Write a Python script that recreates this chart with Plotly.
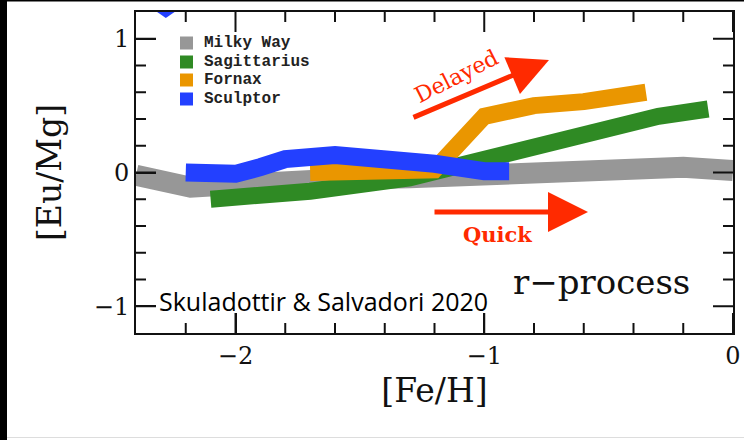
import plotly.graph_objects as go

# ---------------- data ----------------
mw_x = [-2.4, -2.18, -2.0, -1.8, -1.6, -1.3, -1.0, -0.8, -0.45, -0.2, 0.0]
mw_y = [-0.02, -0.11, -0.09, -0.06, -0.05, -0.04, -0.02, -0.005, 0.05, 0.04, 0.015]

sgr_x = [-2.1, -1.7, -1.3, -1.0, -0.6, -0.3, -0.1]
sgr_y = [-0.2, -0.14, -0.04, 0.1, 0.28, 0.42, 0.475]

fnx_x = [-1.7, -1.4, -1.2, -1.0, -0.8, -0.6, -0.35]
fnx_y = [0.0, 0.0, 0.02, 0.42, 0.5, 0.53, 0.6]

scl_x = [-2.2, -2.0, -1.9, -1.8, -1.6, -1.4, -1.3, -1.2, -1.0, -0.9]
scl_y = [0.0, -0.01, 0.04, 0.1, 0.13, 0.1, 0.1, 0.065, 0.01, 0.01]

# small clipped piece of the Sculptor band at the top edge
scl_top_x = [-2.315, -2.245, -2.28, -2.315]
scl_top_y = [1.2, 1.2, 1.155, 1.2]

names = ["Milky Way", "Sagittarius", "Fornax", "Sculptor"]
colors = ["#979797", "#2f8a24", "#ea9600", "#2340ff"]
widths = [21, 17, 17, 18]

x_range = [-2.4, 0.0]
y_range = [-1.2, 1.2]
x_major = [-2, -1, 0]
y_major = [-1, 0, 1]
x_minor = [-2.2, -1.8, -1.6, -1.4, -1.2, -0.8, -0.6, -0.4, -0.2]
y_minor = [-0.8, -0.6, -0.4, -0.2, 0.2, 0.4, 0.6, 0.8]

RED = "#ff2a00"
INK = "#111111"

# plot area geometry (pixels)
L, R, T, B = 136, 733, 12, 333
W, H = 744, 440
PW, PH = R - L, B - T
XU = (x_range[1] - x_range[0]) / PW   # data units per pixel
YU = (y_range[1] - y_range[0]) / PH


def X(px):
    return x_range[0] + (px - L) * XU


def Y(py):
    return y_range[1] - (py - T) * YU


def PX(px):
    return (px - L) / PW


def PY(py):
    return (B - py) / PH


# ---------------- figure ----------------
fig = go.Figure()
series = [(mw_x, mw_y), (sgr_x, sgr_y), (fnx_x, fnx_y), (scl_x, scl_y)]
for (xs, ys), n, c, w in zip(series, names, colors, widths):
    fig.add_trace(go.Scatter(x=xs, y=ys, mode="lines", name=n,
                             line=dict(color=c, width=w), showlegend=False,
                             hoverinfo="skip"))

fig.add_trace(go.Scatter(x=scl_top_x, y=scl_top_y, mode="lines", fill="toself",
                         fillcolor=colors[3], line=dict(width=0, color=colors[3]),
                         showlegend=False, hoverinfo="skip"))

# inward tick marks on all four sides, as line segments on the axes' scales
tx, ty = [], []
for vals, ln in ((x_major, 20), (x_minor, 10)):
    for v in vals:
        tx += [v, v, None, v, v, None]
        ty += [y_range[0], y_range[0] + ln * YU, None,
               y_range[1], y_range[1] - ln * YU, None]
for vals, ln in ((y_major, 20), (y_minor, 10)):
    for v in vals:
        tx += [x_range[0], x_range[0] + ln * XU, None,
               x_range[1], x_range[1] - ln * XU, None]
        ty += [v, v, None, v, v, None]
fig.add_trace(go.Scatter(x=tx, y=ty, mode="lines", line=dict(color=INK, width=2),
                         showlegend=False, hoverinfo="skip", cliponaxis=False))

shapes = []
annotations = []

# legend (manual, squares + labels)
legend_rows = [43, 62, 80, 99]
for n, c, ry in zip(names, colors, legend_rows):
    shapes.append(dict(type="rect", xref="x", yref="y",
                       x0=X(180), x1=X(193), y0=Y(ry - 6.5), y1=Y(ry + 6.5),
                       fillcolor=c, line=dict(width=0)))
    annotations.append(dict(x=X(202), y=Y(ry), xref="x", yref="y", text=n,
                            showarrow=False, xanchor="left", yanchor="middle",
                            font=dict(family="Liberation Mono", size=16,
                                      color="#222222", weight="bold")))

# arrows
annotations.append(dict(x=X(549), y=Y(60), ax=X(412), ay=Y(118),
                        xref="x", yref="y", axref="x", ayref="y", text="",
                        showarrow=True, arrowhead=2, arrowsize=1.6,
                        arrowwidth=5, arrowcolor=RED))
annotations.append(dict(x=X(588), y=Y(212), ax=X(433), ay=Y(212),
                        xref="x", yref="y", axref="x", ayref="y", text="",
                        showarrow=True, arrowhead=2, arrowsize=1.6,
                        arrowwidth=5, arrowcolor=RED))
annotations.append(dict(x=X(456), y=Y(76), xref="x", yref="y", text="Delayed",
                        showarrow=False, textangle=-27,
                        font=dict(family="DejaVu Serif", size=22, color=RED)))
annotations.append(dict(x=X(497), y=Y(234), xref="x", yref="y", text="Quick",
                        showarrow=False,
                        font=dict(family="DejaVu Serif", size=21, color=RED,
                                  weight="bold")))
annotations.append(dict(x=X(601), y=Y(282), xref="x", yref="y", text="r−process",
                        showarrow=False,
                        font=dict(family="DejaVu Serif", size=34, color=INK)))
annotations.append(dict(x=X(157), y=Y(301), xref="x", yref="y",
                        text="Skuladottir &amp; Salvadori 2020",
                        showarrow=False, xanchor="left", yanchor="middle",
                        font=dict(family="Open Sans", size=25, color="#000000")))

# decorative border pieces of the original screenshot
shapes.append(dict(type="rect", xref="paper", yref="paper",
                   x0=PX(0), x1=PX(7), y0=PY(H), y1=PY(0),
                   fillcolor="#000000", line=dict(width=0), layer="above"))
shapes.append(dict(type="rect", xref="paper", yref="paper",
                   x0=PX(0), x1=PX(W), y0=PY(1.5), y1=PY(0),
                   fillcolor="#000000", line=dict(width=0), layer="above"))
shapes.append(dict(type="line", xref="paper", yref="paper",
                   x0=PX(7), x1=PX(W), y0=PY(437.5), y1=PY(437.5),
                   line=dict(color="#dddddd", width=1)))

axis_common = dict(showline=True, linecolor=INK, linewidth=2,
                   mirror=True, ticks="inside", ticklen=20, tickwidth=2,
                   tickcolor=INK, showgrid=False, zeroline=False,
                   tickfont=dict(family="DejaVu Serif", size=24, color=INK))

fig.update_layout(
    width=W, height=H,
    margin=dict(l=L, r=W - R, t=T, b=H - B, autoexpand=False),
    paper_bgcolor="white", plot_bgcolor="white",
    xaxis=dict(range=x_range, tickmode="array", tickvals=x_major,
               ticktext=["−2", "−1", "0"],
               title=dict(text="[Fe/H]", standoff=10,
                          font=dict(family="DejaVu Serif", size=33, color=INK)),
               **axis_common),
    yaxis=dict(range=y_range, tickmode="array", tickvals=y_major,
               ticktext=["−1", "0", "1"],
               title=dict(text="[Eu/Mg]", standoff=22,
                          font=dict(family="DejaVu Serif", size=33, color=INK)),
               **axis_common),
    shapes=shapes, annotations=annotations, showlegend=False,
)

fig.write_html("out.html")
